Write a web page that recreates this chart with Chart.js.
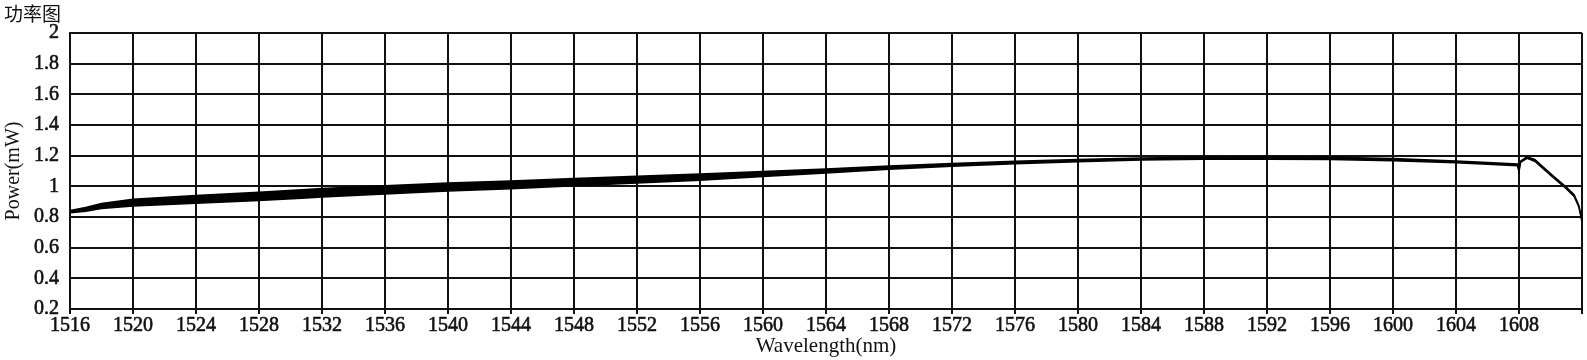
<!DOCTYPE html>
<html>
<head>
<meta charset="utf-8">
<script src="https://cdn.jsdelivr.net/npm/chart.js@4"></script>
<style>
    body { margin: 0; background: #fff; }
    #wrap { position: relative; width: 1587px; height: 360px; }
    #title { position: absolute; left: 4px; top: -1px; font: 19px "Noto Sans CJK SC", sans-serif; color: #111; }
</style>
</head>
<body>
<div id="wrap">
    <div id="title">功率图</div>
    <canvas id="powerChart" width="1587" height="360"></canvas>
</div>
<script>
// 波长 (nm)
const wavelength = [1516, 1517, 1518, 1520, 1524, 1528, 1531, 1532, 1536, 1540, 1544, 1548, 1552, 1556, 1560,
    1564, 1568, 1572, 1576, 1580, 1584, 1588, 1592, 1596, 1600, 1604, 1606, 1607.9, 1608.0, 1608.1,
    1608.5, 1609, 1610, 1611, 1611.5, 1611.8, 1612];
// 功率 (mW) 中心值
const power = [0.835, 0.85, 0.872, 0.893, 0.915, 0.935, 0.952, 0.958, 0.977, 0.995, 1.01, 1.027, 1.043, 1.06, 1.08,
    1.10, 1.122, 1.14, 1.155, 1.168, 1.178, 1.183, 1.184, 1.182, 1.174, 1.16, 1.15, 1.14, 1.10, 1.16,
    1.188, 1.17, 1.078, 0.99, 0.94, 0.87, 0.775];
// 噪声带宽 (mW)
const spread = [0.008, 0.012, 0.016, 0.022, 0.025, 0.027, 0.028, 0.028, 0.027, 0.026, 0.025, 0.024, 0.022, 0.02, 0.016,
    0.013, 0.01, 0.009, 0.008, 0.007, 0.007, 0.007, 0.007, 0.007, 0.007, 0.006, 0.006, 0.006, 0.004, 0.004,
    0.005, 0.006, 0.006, 0.006, 0.006, 0.005, 0.005];

const upper = wavelength.map((w, i) => ({ x: w, y: power[i] + spread[i] }));
const lower = wavelength.map((w, i) => ({ x: w, y: power[i] - spread[i] }));

const serif = "'Liberation Serif', 'DejaVu Serif', serif";

let config = {
    type: 'line',
    data: {
        datasets: [{
            data: upper,
            borderColor: '#000',
            borderWidth: 1.5,
            pointRadius: 0,
            fill: false
        }, {
            data: lower,
            borderColor: '#000',
            borderWidth: 1.5,
            pointRadius: 0,
            backgroundColor: '#000',
            fill: '-1'
        }]
    },
    options: {
        responsive: false,
        animation: false,
        layout: { padding: { top: 33, right: 5, left: 0, bottom: 0 } },
        plugins: {
            legend: { display: false },
            tooltip: { enabled: false }
        },
        scales: {
            x: {
                type: 'linear',
                min: 1516,
                max: 1612,
                afterFit: (scale) => { scale.height = 51; },
                ticks: {
                    stepSize: 4,
                    autoSkip: false,
                    maxRotation: 0,
                    padding: 0,
                    color: '#111',
                    textStrokeColor: '#111',
                    textStrokeWidth: 0.6,
                    font: { family: serif, size: 20 },
                    callback: (v) => v >= 1612 ? '' : v
                },
                grid: { color: '#111', lineWidth: 2, tickLength: 5 },
                border: { color: '#111', width: 2 },
                title: {
                    display: true,
                    text: 'Wavelength(nm)',
                    color: '#111',
                    font: { family: serif, size: 21 },
                    padding: { top: 0, bottom: 1 }
                }
            },
            y: {
                min: 0.2,
                max: 2,
                afterFit: (scale) => { scale.width = 70; },
                ticks: {
                    stepSize: 0.2,
                    padding: 11,
                    color: '#111',
                    textStrokeColor: '#111',
                    textStrokeWidth: 0.6,
                    font: { family: serif, size: 20 },
                    callback: (v) => Number(v.toFixed(1)).toString()
                },
                grid: { color: '#111', lineWidth: 2, drawTicks: false },
                border: { color: '#111', width: 2 },
                title: {
                    display: true,
                    text: 'Power(mW)',
                    color: '#111',
                    font: { family: serif, size: 20 },
                    padding: { top: 2, bottom: 0 }
                }
            }
        }
    }
};
new Chart(document.getElementById('powerChart').getContext('2d'), config);
</script>
</body>
</html>
